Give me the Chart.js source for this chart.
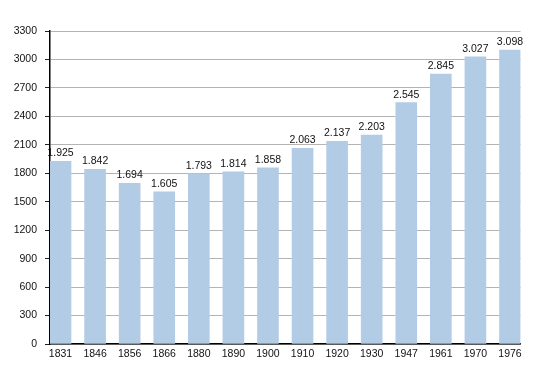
<!DOCTYPE html>
<html>
<head>
<meta charset="utf-8">
<script src="https://cdn.jsdelivr.net/npm/chart.js@4/dist/chart.umd.min.js"></script>
<style>
  html, body { margin: 0; padding: 0; background: #fff; }
  #wrap { width: 550px; height: 373px; }
</style>
</head>
<body>
<div id="wrap"><canvas id="pop-chart"></canvas></div>
<script>
// data
var years = ['1831','1846','1856','1866','1880','1890','1900','1910','1920','1930','1947','1961','1970','1976'];
var population = [1925,1842,1694,1605,1793,1814,1858,2063,2137,2203,2545,2845,3027,3098];
var yMax = 3300;
var yMajor = 300;
var yMinor = 150;

var barBlue = '#b3cce6';
var textColor = '#111';

// 1925 -> "1.925"
function dotted(v) {
  var rest = String(v % 1000);
  while (rest.length < 3) rest = '0' + rest;
  return Math.floor(v / 1000) + '.' + rest;
}

// value labels above each bar
var barLabels = {
  id: 'barLabels',
  afterDatasetsDraw: function(chart) {
    var ctx = chart.ctx;
    var meta = chart.getDatasetMeta(0);
    ctx.save();
    ctx.font = '10.5px "Liberation Sans", Arial, sans-serif';
    ctx.fillStyle = textColor;
    ctx.textAlign = 'center';
    ctx.textBaseline = 'middle';
    meta.data.forEach(function(bar, i) {
      ctx.fillText(dotted(population[i]), bar.x, bar.y - 8);
    });
    ctx.restore();
  }
};

var points = population.map(function(v, i) { return { x: i, y: v }; });
var edge = 0.304; // half a bar, so first/last bars touch the plot edges

new Chart(document.getElementById('pop-chart'), {
  type: 'bar',
  data: {
    datasets: [{
      data: points,
      backgroundColor: barBlue,
      borderWidth: 0,
      barThickness: 21
    }]
  },
  options: {
    responsive: true,
    maintainAspectRatio: false,
    animation: false,
    layout: { padding: { left: 0, right: 29.5, top: 31, bottom: 0 } },
    plugins: {
      legend: { display: false },
      tooltip: { enabled: false }
    },
    scales: {
      x: {
        type: 'linear',
        offset: false,
        min: -edge,
        max: years.length - 1 + edge,
        grid: { display: false, drawTicks: false, offset: false },
        border: { display: true, color: '#000', width: 1.5 },
        ticks: {
          stepSize: 1,
          includeBounds: false,
          autoSkip: false,
          maxRotation: 0,
          padding: 4,
          color: textColor,
          font: { family: '"Liberation Sans", Arial, sans-serif', size: 10.5 },
          callback: function(v) {
            return Number.isInteger(v) ? years[v] : '';
          }
        },
        afterFit: function(scale) { scale.height = 29; }
      },
      y: {
        min: 0,
        max: yMax,
        grid: {
          color: function(c) {
            return c.tick.value % yMajor === 0 ? '#b4b4b4' : '#e6e6e6';
          },
          tickColor: '#222',
          tickLength: 5
        },
        border: { display: true, color: '#000', width: 1.5 },
        ticks: {
          stepSize: yMinor,
          padding: 8,
          color: textColor,
          font: { family: '"Liberation Sans", Arial, sans-serif', size: 10.5 },
          callback: function(v) {
            return v % yMajor === 0 ? String(v) : '';
          }
        },
        afterFit: function(scale) { scale.width = 50; }
      }
    }
  },
  plugins: [barLabels]
});
</script>
</body>
</html>
